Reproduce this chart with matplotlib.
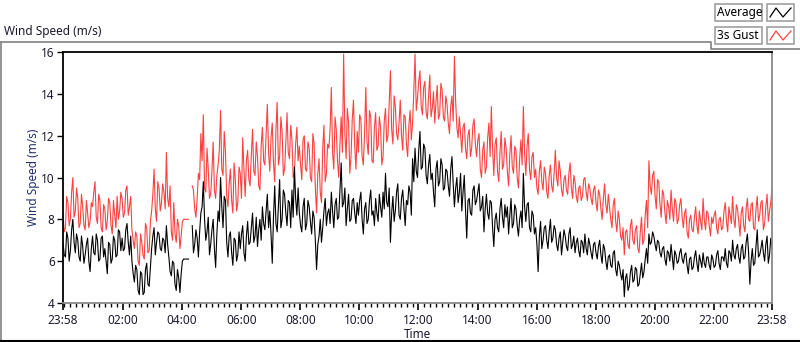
import numpy as np
import matplotlib
matplotlib.use('Agg')
from matplotlib import pyplot as plt
from matplotlib.lines import Line2D
from matplotlib.patches import Rectangle

plt.rcParams['font.family'] = ['Noto Sans', 'DejaVu Sans']

# minutes after 23:58; main samples every 5 min, half samples 2.5 min later
# (NaN = gap in the log)
step_min = 2.5

gust_main = [
  8.3, 7.6, 8.8, 8.0, 10.0, 8.4, 9.0, 7.8, 8.6, 7.5, 8.3, 7.9,
  8.6, 9.8, 7.8, 8.9, 7.4, 8.5, 7.9, 8.8, 7.3, 8.2, 9.1, 8.4,
  9.0, 8.3, 9.6, 8.6, 7.5, 6.6, 7.2, 5.8, 6.9, 6.1, 7.6, 6.5,
  8.4, 10.4, 7.9, 9.5, 8.8, 9.3, 11.2, 8.6, 7.4, 8.8, 6.9, 7.7,
  7.2, 8.0, 8.0, 8.0, np.nan, 9.4, 8.1, 10.2, 12.1, 13.0, 9.3, 10.4,
  9.2, 11.7, 9.0, 10.6, 13.2, 10.1, 11.2, 8.6, 10.4, 8.3, 9.9, 8.8,
  10.2, 11.9, 9.1, 11.3, 9.6, 12.3, 10.1, 11.0, 9.4, 12.4, 10.6, 13.5,
  10.3, 12.6, 9.8, 13.6, 11.0, 12.2, 10.4, 13.1, 10.9, 11.8, 10.2, 12.4,
  11.5, 9.9, 12.0, 10.3, 11.4, 9.8, 11.6, 8.3, 10.9, 8.8, 12.5, 10.2,
  11.4, 14.3, 10.4, 12.3, 10.0, 12.9, 15.9, 10.9, 12.6, 11.0, 13.7, 10.4,
  11.2, 12.8, 10.6, 14.3, 11.1, 12.9, 10.7, 13.1, 11.5, 12.4, 11.0, 13.3,
  12.0, 15.1, 11.6, 13.4, 11.8, 13.7, 11.3, 12.9, 11.0, 13.2, 12.6, 15.9,
  13.8, 15.1, 13.0, 14.6, 12.8, 14.9, 13.3, 12.6, 14.4, 13.0, 14.2, 12.7,
  13.5, 12.1, 13.9, 15.8, 12.4, 12.9, 11.2, 12.6, 10.9, 12.3, 11.4, 12.8,
  11.0, 12.1, 10.0, 11.7, 10.5, 12.6, 13.4, 10.1, 11.9, 9.8, 12.2, 10.6,
  11.4, 9.6, 12.0, 10.2, 11.3, 9.5, 11.8, 13.4, 10.1, 12.1, 9.9, 11.2,
  10.4, 9.2, 10.8, 9.4, 10.2, 9.0, 10.6, 9.3, 11.3, 9.6, 10.3, 9.1,
  10.1, 9.2, 10.7, 9.0, 9.8, 8.8, 9.6, 9.1, 10.0, 8.9, 9.5, 8.7,
  9.6, 8.4, 9.2, 8.0, 9.7, 8.3, 8.6, 7.6, 9.0, 7.4, 8.0, 7.0,
  6.3, 7.5, 6.6, 8.0, 6.8, 7.7, 6.4, 8.1, 7.0, 8.9, 10.8, 9.2,
  10.3, 8.5, 9.8, 8.1, 9.2, 7.8, 8.6, 9.4, 7.9, 8.8, 8.0, 9.0,
  7.6, 8.5, 7.1, 8.2, 7.4, 8.6, 7.3, 7.9, 9.0, 7.5, 8.3, 7.2,
  7.8, 8.4, 7.3, 8.1, 7.6, 8.8, 7.4, 8.2, 9.1, 7.6, 8.5, 7.2,
  8.6, 7.4, 9.0, 7.9, 8.8, 7.5, 9.1, 8.2, 8.9, 7.8, 9.2, 8.4, 9.5,
]

gust_half = [
  7.4, 9.1, 7.7, 9.3, 8.1, 9.5, 7.6, 9.2, 7.7, 8.9, 7.6, 8.8,
  9.3, 8.1, 9.2, 7.6, 8.7, 7.5, 9.0, 7.7, 8.9, 7.6, 8.0, 9.3,
  8.1, 9.4, 8.2, 9.1, 7.0, 7.4, 6.0, 7.3, 6.3, 7.8, 6.4, 7.9,
  9.2, 8.5, 9.8, 8.4, 9.7, 8.5, 9.0, 9.6, 7.0, 7.3, 8.0, 6.6,
  7.9, 8.0, 8.0, np.nan, 9.6, 8.5, 9.0, 9.9, 10.8, 9.5, 11.4, 9.0,
  10.3, 9.4, 10.1, 11.3, 10.4, 12.2, 9.1, 9.7, 8.9, 10.7, 8.4, 10.5,
  9.0, 10.4, 10.8, 9.9, 11.1, 10.3, 11.7, 9.6, 11.5, 10.8, 12.1, 11.2,
  11.9, 10.7, 12.3, 10.6, 12.9, 10.1, 11.6, 11.2, 12.5, 10.0, 11.6, 10.8,
  10.6, 11.8, 10.4, 11.7, 10.0, 12.1, 9.5, 10.2, 9.3, 11.4, 9.8, 11.6,
  12.3, 11.2, 12.9, 10.8, 11.6, 11.2, 12.1, 13.3, 10.2, 12.8, 11.5, 12.2,
  13.0, 11.0, 12.1, 11.7, 13.2, 10.8, 12.4, 11.3, 12.9, 10.6, 12.7, 11.7,
  13.6, 12.3, 13.9, 12.1, 12.6, 12.0, 13.0, 11.6, 12.5, 11.8, 14.1, 13.2,
  14.6, 13.4, 14.3, 13.1, 13.9, 12.9, 14.1, 13.6, 12.8, 14.5, 12.9, 13.9,
  12.6, 13.4, 12.7, 13.6, 11.9, 12.1, 12.4, 11.4, 12.0, 11.0, 12.5, 11.6,
  11.8, 10.4, 11.3, 10.2, 11.9, 11.0, 11.4, 11.6, 10.3, 11.2, 10.4, 11.9,
  10.3, 11.1, 10.5, 11.5, 10.0, 10.9, 10.6, 11.2, 11.5, 10.4, 11.0, 10.0,
  9.5, 10.3, 9.8, 10.5, 9.3, 10.1, 9.6, 10.2, 10.0, 10.8, 9.4, 9.9,
  9.4, 10.2, 9.5, 10.1, 9.1, 9.5, 8.9, 9.9, 9.3, 9.7, 9.0, 9.4,
  8.8, 9.4, 8.5, 9.0, 8.7, 9.2, 8.0, 8.7, 7.9, 8.4, 7.2, 7.6,
  7.4, 6.8, 7.7, 7.0, 7.5, 6.6, 7.4, 6.8, 8.2, 7.6, 9.6, 10.1,
  9.1, 9.9, 8.7, 9.4, 8.3, 8.9, 8.0, 8.5, 9.0, 7.8, 8.7, 8.1,
  8.3, 7.4, 8.0, 7.5, 8.1, 7.7, 8.4, 7.5, 8.0, 8.4, 7.7, 8.1,
  8.2, 7.6, 8.0, 7.5, 8.4, 7.9, 8.6, 7.8, 8.0, 8.7, 7.9, 8.3,
  7.7, 8.5, 8.0, 8.7, 7.6, 8.5, 7.9, 8.8, 7.5, 8.6, 7.9, 8.8,
]

average_main = [
  6.9, 6.2, 7.1, 6.5, 8.0, 6.4, 7.0, 6.0, 6.7, 6.3, 7.1, 5.5,
  7.2, 6.3, 7.0, 6.1, 7.2, 6.6, 5.4, 6.8, 6.1, 7.0, 6.3, 7.4,
  7.1, 6.6, 7.8, 6.3, 6.0, 5.0, 5.6, 4.4, 5.4, 4.5, 5.9, 4.8,
  6.6, 7.6, 6.9, 7.3, 6.5, 7.0, 7.7, 6.2, 5.3, 5.9, 4.6, 5.2,
  5.4, 6.1, 6.1, 6.1, np.nan, 6.4, 7.5, 6.2, 8.3, 9.8, 7.0, 8.1,
  6.8, 8.0, 5.7, 8.4, 10.0, 7.6, 8.9, 6.2, 7.4, 5.8, 7.0, 6.3,
  6.6, 7.7, 6.0, 7.9, 6.9, 8.3, 7.2, 6.7, 8.0, 8.6, 7.5, 9.2,
  8.4, 5.9, 9.6, 7.4, 9.9, 8.0, 9.2, 7.7, 8.8, 9.4, 10.5, 8.2,
  8.3, 7.4, 9.0, 7.8, 8.6, 7.3, 8.1, 5.6, 7.2, 6.9, 8.4, 7.7,
  8.5, 9.3, 7.6, 9.0, 8.1, 10.7, 8.8, 7.7, 9.2, 8.0, 9.0, 7.8,
  8.2, 9.3, 7.3, 8.8, 8.0, 9.4, 8.4, 9.0, 7.9, 8.6, 9.3, 10.2,
  8.6, 6.9, 9.1, 8.4, 9.7, 8.0, 9.4, 7.7, 8.7, 9.3, 10.9, 11.4,
  10.0, 12.2, 10.5, 11.4, 9.7, 11.1, 10.2, 8.6, 10.8, 9.8, 10.6, 9.5,
  10.3, 9.1, 11.0, 8.6, 10.0, 9.3, 8.4, 10.1, 7.1, 9.0, 8.2, 9.6,
  8.9, 9.7, 8.6, 7.4, 9.2, 8.0, 8.8, 6.7, 8.3, 7.4, 9.0, 7.6,
  8.1, 7.3, 9.0, 7.8, 8.5, 7.2, 8.4, 10.2, 7.9, 8.8, 7.4, 8.2,
  7.6, 5.5, 7.9, 7.0, 7.7, 6.6, 8.0, 7.1, 7.5, 6.5, 7.4, 6.9,
  7.2, 6.5, 7.6, 6.8, 6.4, 7.1, 6.2, 6.9, 7.3, 6.3, 6.8, 6.1,
  6.9, 6.1, 7.0, 5.9, 6.6, 5.6, 6.3, 5.7, 6.5, 5.3, 5.8, 5.1,
  4.3, 5.4, 4.8, 5.8, 5.1, 5.6, 4.9, 5.9, 5.5, 6.6, 7.3, 6.9,
  7.2, 6.5, 6.9, 6.2, 6.7, 5.8, 6.4, 6.8, 5.6, 6.3, 6.0, 6.6,
  5.9, 6.4, 5.4, 6.2, 5.7, 6.5, 5.5, 6.0, 6.4, 5.7, 6.2, 5.6,
  6.1, 5.8, 6.5, 5.6, 6.2, 6.6, 5.7, 6.4, 7.0, 6.1, 6.8, 5.9,
  6.8, 6.2, 7.3, 4.9, 6.6, 5.9, 7.5, 6.3, 7.0, 6.0, 7.2, 6.3, 6.6,
]

average_half = [
  6.3, 7.4, 6.0, 7.5, 6.9, 7.3, 6.2, 7.2, 5.9, 6.8, 6.0, 6.6,
  6.4, 7.3, 6.0, 7.1, 6.2, 6.0, 6.9, 5.9, 7.2, 6.2, 7.5, 6.5,
  6.5, 7.5, 6.9, 7.2, 5.4, 5.8, 4.6, 5.5, 4.4, 5.6, 4.9, 5.7,
  7.2, 6.3, 7.4, 6.6, 7.1, 6.4, 6.8, 5.5, 6.0, 4.9, 5.6, 4.5,
  6.0, 6.1, 6.1, np.nan, 7.7, 6.8, 7.1, 7.4, 8.6, 8.0, 7.4, 6.3,
  7.5, 6.6, 7.3, 7.9, 8.6, 9.1, 6.9, 7.2, 6.4, 7.1, 6.0, 7.4,
  7.3, 6.4, 7.2, 6.8, 7.6, 6.9, 8.1, 7.5, 7.0, 7.8, 8.4, 7.6,
  7.3, 8.1, 7.8, 8.7, 7.6, 9.4, 8.3, 8.9, 7.6, 8.1, 9.0, 9.5,
  7.7, 8.6, 7.5, 8.9, 7.9, 8.4, 7.0, 6.8, 8.0, 7.6, 9.0, 8.3,
  7.8, 8.4, 8.7, 8.0, 9.4, 8.6, 9.5, 8.5, 7.9, 8.9, 8.3, 8.8,
  8.9, 8.0, 8.5, 7.8, 8.9, 8.2, 7.7, 8.3, 9.2, 8.1, 8.5, 8.8,
  9.5, 8.3, 7.9, 9.3, 8.2, 9.0, 8.5, 8.9, 9.6, 8.2, 9.8, 10.3,
  11.3, 10.4, 11.6, 10.1, 10.6, 9.9, 9.3, 10.4, 9.6, 10.9, 9.4, 10.4,
  9.6, 10.4, 9.7, 9.5, 8.8, 10.2, 9.3, 8.5, 8.9, 8.3, 9.4, 8.7,
  9.3, 8.4, 9.1, 8.5, 8.3, 8.9, 7.6, 8.0, 7.6, 8.5, 8.1, 8.7,
  8.6, 8.2, 7.6, 8.7, 7.7, 8.0, 7.6, 8.6, 8.7, 7.6, 8.4, 7.3,
  6.8, 7.2, 6.6, 7.6, 7.0, 7.4, 6.9, 7.7, 6.8, 7.1, 6.3, 7.5,
  6.7, 7.3, 6.6, 7.2, 6.9, 6.5, 7.0, 6.4, 6.6, 7.1, 6.4, 6.8,
  6.4, 6.7, 6.3, 6.8, 6.0, 6.2, 5.8, 6.4, 5.6, 6.0, 5.4, 5.6,
  5.2, 4.6, 5.5, 5.0, 5.7, 4.8, 5.4, 5.2, 6.1, 5.9, 6.8, 7.4,
  6.8, 7.0, 6.4, 6.6, 6.1, 6.5, 6.0, 6.2, 6.5, 5.9, 6.4, 6.1,
  6.3, 5.8, 6.1, 5.6, 6.2, 5.9, 6.3, 5.7, 5.9, 6.2, 5.8, 6.3,
  5.7, 6.3, 5.9, 6.2, 6.0, 5.9, 6.5, 6.0, 6.3, 6.6, 6.2, 6.6,
  6.1, 6.9, 6.4, 6.0, 5.8, 6.7, 6.2, 6.6, 6.4, 6.8, 5.9, 7.1,
]

major_min = [0, 122, 242, 362, 482, 602, 722, 842, 962, 1082, 1202, 1322, 1440]
major_lbl = ['23:58', '02:00', '04:00', '06:00', '08:00', '10:00', '12:00',
             '14:00', '16:00', '18:00', '20:00', '22:00', '23:58']
y_ticks = [4, 6, 8, 10, 12, 14, 16]

gust_col = '#ff4040'
txt_col = '#1a1a2e'

W, H = 800, 342

def fx(px):
  return px / W

def fy(py):
  return 1 - py / H

def interleave(main, half):
  out = np.empty(len(main) + len(half))
  out[0::2] = main
  out[1::2] = half
  return out

gust = interleave(gust_main, gust_half)
average = interleave(average_main, average_half)
t = np.arange(len(gust)) * step_min

fig = plt.figure(figsize=(8, 3.42), dpi=100)
fig.patch.set_facecolor('white')

ax = fig.add_axes([fx(63), fy(303), fx(772) - fx(63), fy(52) - fy(303)])
ax.plot(t, gust, color=gust_col, lw=0.8)
ax.plot(t, average, color='black', lw=0.8)

ax.set_xlim(0, 1440)
ax.set_ylim(4, 16)
ax.set_yticks(y_ticks)
ax.set_yticklabels([str(v) for v in y_ticks], fontsize=8.5, color=txt_col)
ax.set_xticks(major_min)
ax.set_xticklabels(major_lbl, fontsize=8.5, color=txt_col)
minor = [m for m in range(2, 1440, 12) if m not in major_min]
ax.set_xticks(minor, minor=True)
ax.tick_params(axis='x', which='major', length=5, width=1.2, direction='out', pad=3)
ax.tick_params(axis='x', which='minor', length=3, width=1, direction='out')
ax.tick_params(axis='y', which='major', length=4, width=1, direction='out', pad=2)

for s in ['top', 'left']:
  ax.spines[s].set_color('black')
  ax.spines[s].set_linewidth(1.3)
for s in ['bottom', 'right']:
  ax.spines[s].set_color('#8a8a8a')
  ax.spines[s].set_linewidth(1.3)

ax.set_xlabel('Time', fontsize=8.5, color=txt_col, labelpad=1)
ax.set_ylabel('Wind Speed (m/s)', fontsize=8.5, color='#23306a', labelpad=1)

# graph title
fig.text(fx(4), fy(32), 'Wind Speed (m/s)', fontsize=8.5, color=txt_col,
         ha='left', va='center')

# outer frame of the graph control
grey = '#8a8a8a'
fig.add_artist(Line2D([fx(0), fx(711), fx(711), fx(800)],
                      [fy(42), fy(42), fy(49), fy(49)],
                      transform=fig.transFigure, color=grey, lw=1.3))
fig.add_artist(Line2D([fx(1), fx(1)], [fy(42), fy(341)],
                      transform=fig.transFigure, color=grey, lw=1.3))
fig.add_artist(Line2D([fx(0), fx(800)], [fy(341), fy(341)],
                      transform=fig.transFigure, color='black', lw=1.5))

# legend
for i, (name, col) in enumerate([('Average', 'black'), ('3s Gust', gust_col)]):
  top = 4 + i * 23
  bot = top + 17
  fig.add_artist(Rectangle((fx(715), fy(bot)), fx(762) - fx(715), fy(top) - fy(bot),
                           transform=fig.transFigure, fill=False,
                           edgecolor='#a0a0a0', lw=1.2))
  fig.add_artist(Rectangle((fx(767), fy(bot)), fx(794) - fx(767), fy(top) - fy(bot),
                           transform=fig.transFigure, fill=False,
                           edgecolor='#a0a0a0', lw=1.2))
  fig.text(fx(717), fy((top + bot) / 2), name, fontsize=8.5, color='black',
           ha='left', va='center')
  zx = [770, 776, 783, 791]
  zy = [bot - 4, top + 4, bot - 4, top + 4]
  fig.add_artist(Line2D([fx(v) for v in zx], [fy(v) for v in zy],
                        transform=fig.transFigure, color=col, lw=0.9))

fig.savefig('out.png', dpi=100, facecolor='white')
